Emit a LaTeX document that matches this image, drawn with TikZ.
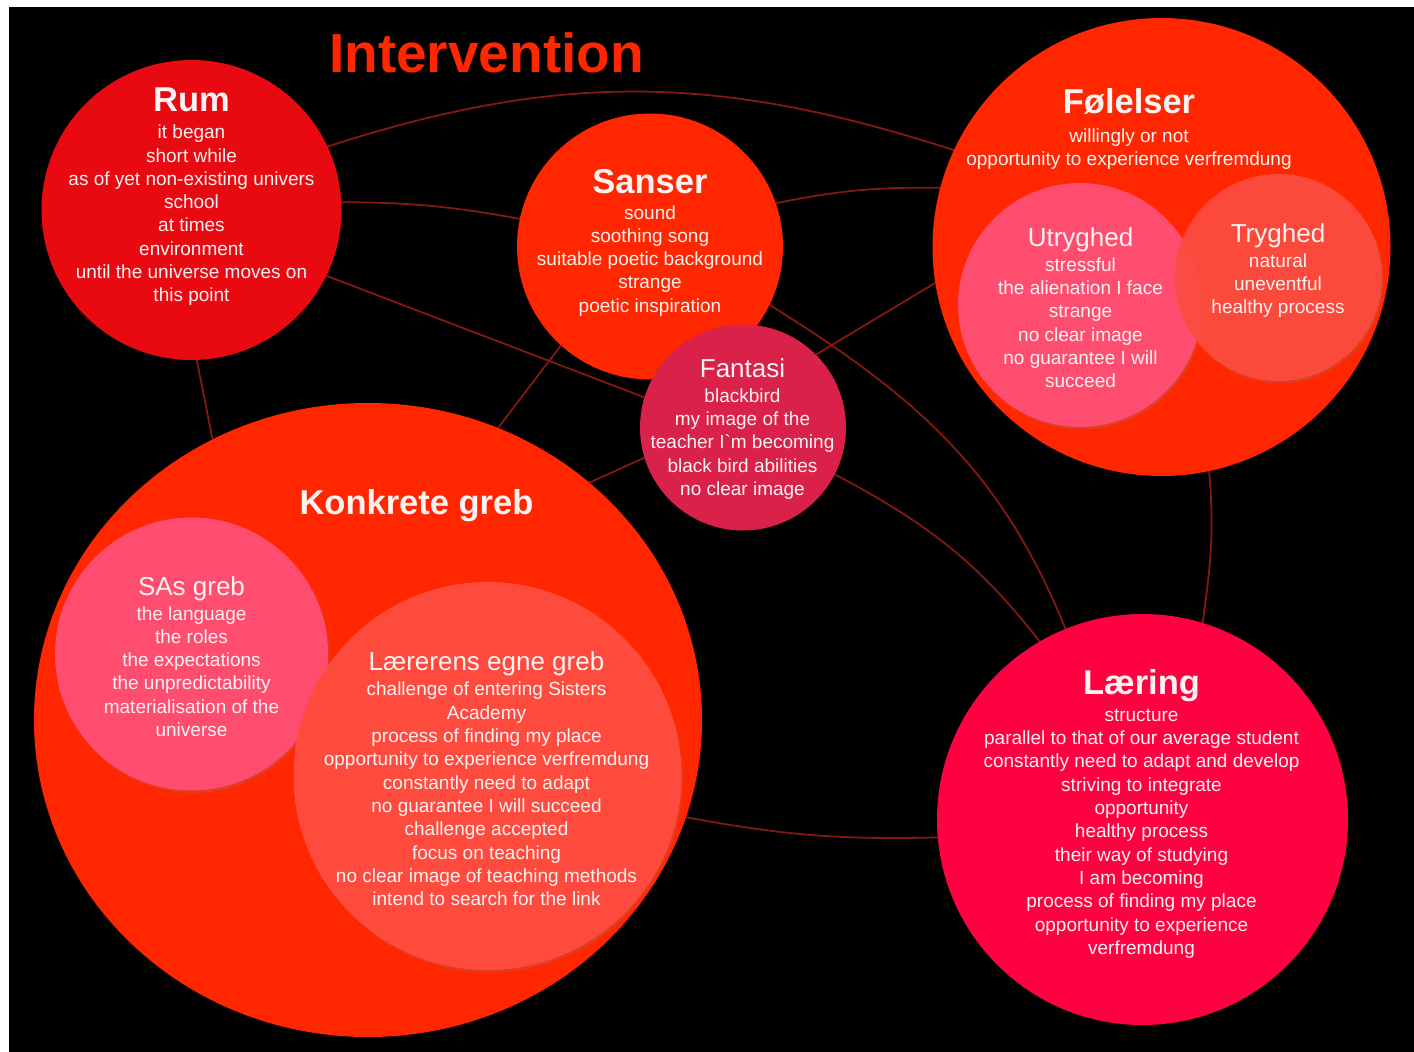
\documentclass[tikz,border=0pt]{standalone}
\usepackage{fontspec}
\setmainfont{Liberation Sans}
\newfontfamily\plainfont{Liberation Sans}
\usetikzlibrary{shapes.geometric,shadows}
\definecolor{rumred}{HTML}{E80A10}
\definecolor{orred}{HTML}{FF2600}
\definecolor{pinkc}{HTML}{FF4D6F}
\definecolor{coral}{HTML}{FF4B3E}
\definecolor{fantc}{HTML}{D9214A}
\definecolor{laerc}{HTML}{FF0040}
\definecolor{connc}{HTML}{841812}
\definecolor{txtc}{HTML}{FFF2F2}
\pgfdeclarelayer{bg}
\pgfdeclarelayer{edges}
\pgfsetlayers{bg,edges,main}
\tikzset{
  blob/.style={circle, inner sep=0pt, outer sep=0pt, minimum size=#1},
  conn/.style={draw=connc, line width=1.8pt},
  body/.style={text=txtc, align=center, inner sep=0pt, anchor=north, font=\fontsize{19}{23.3}\selectfont},
  shad/.style={drop shadow={shadow xshift=1.5pt, shadow yshift=-2.5pt, opacity=0.25}},
}
\newcommand{\headB}[1]{{\fontsize{34.5}{40}\selectfont\bfseries #1}}
\newcommand{\headR}[1]{{\fontsize{26}{30}\selectfont #1}}
\begin{document}
\begin{tikzpicture}[x=1pt,y=1pt]
\begin{pgfonlayer}{bg}
\fill[white] (0,0) rectangle (1414,-1052);
\fill[black] (9,-7) rectangle (1414,-1052);
\end{pgfonlayer}
\useasboundingbox (0,0) rectangle (1414,-1052);

% title
\node[text=orred, font=\fontsize{55}{60}\selectfont\bfseries, anchor=base, inner sep=0pt] (title) at (486.5,-72.7) {Intervention};

% circles
\node[blob=300pt, fill=rumred] (rum) at (191.5,-210) {};
\node[blob=266pt, fill=orred] (sanser) at (650,-246.5) {};
\node[blob=458pt, fill=orred] (fol) at (1161.5,-247) {};
\node[blob=244pt, fill=pinkc, shad] (utr) at (1080,-305) {};
\node[blob=207pt, fill=coral, fill opacity=0.9, shad] (tryg) at (1278.5,-277.5) {};
\node[ellipse, inner sep=0pt, outer sep=0pt, minimum width=668pt, minimum height=634pt, fill=orred] (konk) at (368,-720) {};
\node[blob=273pt, fill=pinkc, shad] (sas) at (191.5,-654) {};
\node[blob=388pt, fill=coral, shad] (laer) at (487.5,-776) {};
\node[blob=206pt, fill=fantc] (fant) at (743,-427.5) {};
\node[blob=411pt, fill=laerc] (lae) at (1142.5,-819.5) {};

% connectors
\begin{pgfonlayer}{edges}
\draw[conn] (rum.25) to[out=18,in=162] (fol.155);
\draw[conn] (rum.3) to[bend left=5] (sanser.168);
\draw[conn] (rum.-26) -- (fant.163);
\draw[conn] (rum.-88) -- (konk.119);
\draw[conn] (sanser.19) to[bend left=6] (fol.165);
\draw[conn] (sanser.-26) to[out=-32,in=112] (lae.112);
\draw[conn] (konk.66) -- (sanser.228);
\draw[conn] (fant.45) -- (fol.189);
\draw[conn] (konk.47) -- (fant.197);
\draw[conn] (fant.-27) to[out=-28,in=128] (lae.120);
\draw[conn] (fol.-78) to[out=-85,in=82] (lae.73);
\draw[conn] (konk.-17) to[bend right=6] (lae.185);
\end{pgfonlayer}

% texts
\node[body] (rumt) at (191.5,-88) {\headB{Rum}\\[3.5pt] it began\\ short while\\ as of yet non-existing univers\\ school\\ at times\\ environment\\ until the universe moves on\\ this point};
\node[body] (sansert) at (650,-168.8) {\headB{Sanser}\\[2.7pt] sound\\ soothing song\\ suitable poetic background\\ strange\\ poetic inspiration};
\node[body] (folt) at (1129,-88.5) {\headB{Følelser}\\[5.5pt] willingly or not\\ opportunity to experience verfremdung};
\node[body] (utrt) at (1080.5,-227.2) {\headR{Utryghed}\\[1.7pt] stressful\\ the alienation I face\\ strange\\ no clear image\\ no guarantee I will\\ succeed};
\node[body] (trygt) at (1278,-223.3) {\headR{Tryghed}\\[1.7pt] natural\\ uneventful\\ healthy process};
\node[body] (fantt) at (742.5,-358.3) {\headR{Fantasi}\\[1.7pt] blackbird\\ my image of the\\ teacher I{\plainfont`}m becoming\\ black bird abilities\\ no clear image};
\node[body] (konkt) at (416.5,-489) {\headB{Konkrete greb}};
\node[body] (sast) at (191.5,-576) {\headR{SAs greb}\\[1.7pt] the language\\ the roles\\ the expectations\\ the unpredictability\\ materialisation of the\\ universe};
\node[body] (laert) at (486.5,-651.2) {\headR{Lærerens egne greb}\\[2.4pt] challenge of entering Sisters\\ Academy\\ process of finding my place\\ opportunity to experience verfremdung\\ constantly need to adapt\\ no guarantee I will succeed\\ challenge accepted\\ focus on teaching\\ no clear image of teaching methods\\ intend to search for the link};
\node[body] (laet) at (1141.5,-669) {\headB{Læring}\\[3.8pt] structure\\ parallel to that of our average student\\ constantly need to adapt and develop\\ striving to integrate\\ opportunity\\ healthy process\\ their way of studying\\ I am becoming\\ process of finding my place\\ opportunity to experience\\ verfremdung};
\end{tikzpicture}
\end{document}
